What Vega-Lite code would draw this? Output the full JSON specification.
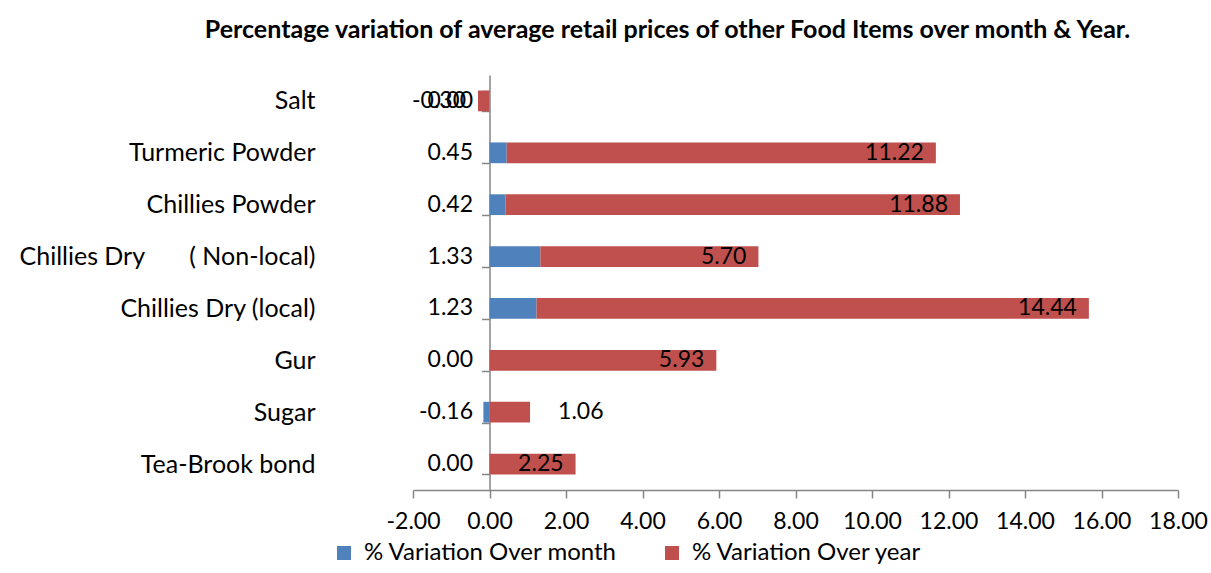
{
  "$schema": "https://vega.github.io/schema/vega-lite/v6.json",
  "autosize": "none",
  "width": 765,
  "height": 415,
  "padding": {"left": 413, "top": 75, "right": 33, "bottom": 83},
  "background": "white",
  "title": {
    "text": "Percentage variation of average retail prices of other Food Items over month & Year.",
    "font": "Lato",
    "fontSize": 25,
    "fontWeight": "bold",
    "color": "#000000",
    "anchor": "middle",
    "dx": -128,
    "offset": 20
  },
  "data": {
    "values": [
      {"item": "Salt", "series": "% Variation Over month", "value": 0.00},
      {"item": "Salt", "series": "% Variation Over year", "value": -0.30},
      {"item": "Turmeric Powder", "series": "% Variation Over month", "value": 0.45},
      {"item": "Turmeric Powder", "series": "% Variation Over year", "value": 11.22},
      {"item": "Chillies Powder", "series": "% Variation Over month", "value": 0.42},
      {"item": "Chillies Powder", "series": "% Variation Over year", "value": 11.88},
      {"item": "Chillies Dry\u00a0\u00a0\u00a0\u00a0\u00a0\u00a0\u00a0( Non-local)", "series": "% Variation Over month", "value": 1.33},
      {"item": "Chillies Dry\u00a0\u00a0\u00a0\u00a0\u00a0\u00a0\u00a0( Non-local)", "series": "% Variation Over year", "value": 5.70},
      {"item": "Chillies Dry (local)", "series": "% Variation Over month", "value": 1.23},
      {"item": "Chillies Dry (local)", "series": "% Variation Over year", "value": 14.44},
      {"item": "Gur", "series": "% Variation Over month", "value": 0.00},
      {"item": "Gur", "series": "% Variation Over year", "value": 5.93},
      {"item": "Sugar", "series": "% Variation Over month", "value": -0.16},
      {"item": "Sugar", "series": "% Variation Over year", "value": 1.06},
      {"item": "Tea-Brook bond", "series": "% Variation Over month", "value": 0.00},
      {"item": "Tea-Brook bond", "series": "% Variation Over year", "value": 2.25}
    ]
  },
  "encoding": {
    "y": {
      "field": "item",
      "type": "nominal",
      "sort": null,
      "scale": {"paddingInner": 0.6, "paddingOuter": 0.3},
      "axis": {
        "title": null,
        "offset": -76.5,
        "domainColor": "#868686",
        "domainWidth": 1.5,
        "tickColor": "#868686",
        "tickWidth": 1.5,
        "tickSize": 8,
        "tickBand": "extent",
        "labelPadding": 166.5,
        "labelLimit": 500,
        "labelFont": "Lato",
        "labelFontSize": 25,
        "labelColor": "#000000"
      }
    }
  },
  "layer": [
    {
      "mark": {"type": "bar"},
      "encoding": {
        "x": {
          "field": "value",
          "type": "quantitative",
          "stack": "zero",
          "scale": {"domain": [-2, 18], "nice": false, "zero": false},
          "axis": {
            "title": null,
            "values": [-2, 0, 2, 4, 6, 8, 10, 12, 14, 16, 18],
            "format": ".2f",
            "grid": false,
            "domainColor": "#868686",
            "domainWidth": 1.5,
            "tickColor": "#868686",
            "tickWidth": 1.5,
            "tickSize": 8,
            "labelPadding": 12,
            "labelFont": "Lato",
            "labelFontSize": 23,
            "labelColor": "#000000",
            "labelFlush": false,
            "labelOverlap": false
          }
        },
        "color": {
          "field": "series",
          "type": "nominal",
          "scale": {
            "domain": ["% Variation Over month", "% Variation Over year"],
            "range": ["#4F81BD", "#C0504D"]
          },
          "legend": {
            "title": null,
            "orient": "none",
            "legendX": -81,
            "legendY": 466,
            "direction": "horizontal",
            "padding": 0,
            "symbolType": "square",
            "symbolSize": 196,
            "symbolStrokeWidth": 0,
            "labelFont": "Lato",
            "labelFontSize": 24,
            "labelColor": "#000000",
            "labelOffset": 8,
            "columnPadding": 42,
            "labelLimit": 500
          }
        },
        "order": {"field": "series", "sort": "ascending"}
      }
    },
    {
      "transform": [{"filter": "datum.series === '% Variation Over month'"}],
      "mark": {"type": "text", "align": "right", "baseline": "middle", "font": "Lato", "fontSize": 23, "color": "#000000"},
      "encoding": {
        "x": {"datum": -0.43, "type": "quantitative"},
        "text": {"field": "value", "type": "quantitative", "format": ".2f"}
      }
    },
    {
      "transform": [
        {"stack": "value", "groupby": ["item"], "sort": [{"field": "series", "order": "ascending"}], "as": ["v0", "v1"]},
        {"filter": "datum.series === '% Variation Over year' && (datum.v1 < 0 || datum.v1 > 1.5)"}
      ],
      "mark": {"type": "text", "align": "right", "baseline": "middle", "dx": -12, "font": "Lato", "fontSize": 23, "color": "#000000"},
      "encoding": {
        "x": {"field": "v1", "type": "quantitative"},
        "text": {"field": "value", "type": "quantitative", "format": ".2f"}
      }
    },
    {
      "transform": [
        {"stack": "value", "groupby": ["item"], "sort": [{"field": "series", "order": "ascending"}], "as": ["v0", "v1"]},
        {"filter": "datum.series === '% Variation Over year' && datum.v1 >= 0 && datum.v1 <= 1.5"}
      ],
      "mark": {"type": "text", "align": "left", "baseline": "middle", "dx": 28, "font": "Lato", "fontSize": 23, "color": "#000000"},
      "encoding": {
        "x": {"field": "v1", "type": "quantitative"},
        "text": {"field": "value", "type": "quantitative", "format": ".2f"}
      }
    }
  ],
  "config": {
    "view": {"stroke": null},
    "locale": {
      "number": {"decimal": ".", "thousands": ",", "grouping": [3], "currency": ["$", ""], "minus": "-"}
    }
  }
}
